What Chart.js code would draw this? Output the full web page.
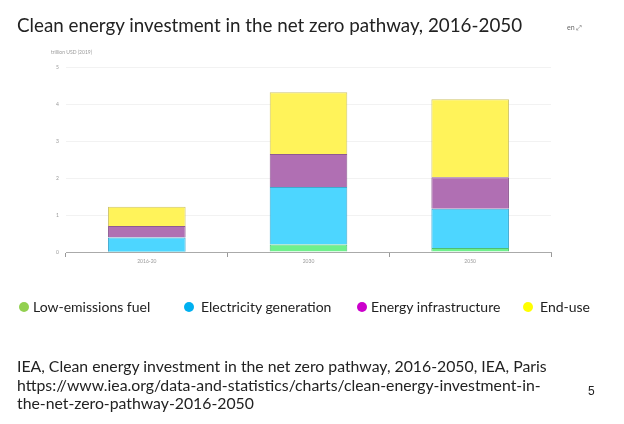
<!DOCTYPE html>
<html>
<head>
<meta charset="utf-8">
<script src="https://cdn.jsdelivr.net/npm/chart.js@4"></script>
<style>
  html, body { margin: 0; padding: 0; background: #fff; }
  body { width: 624px; height: 424px; position: relative; overflow: hidden; font-family: Lato, sans-serif; color: #222; }
  #wrap { position: absolute; left: 0; top: 0; width: 624px; height: 424px; }
  .abs { position: absolute; white-space: nowrap; }
  #title { left: 17px; top: 13px; font-size: 18.8px; }
  #unit { left: 51px; top: 49px; font-size: 5px; color: #999; }
  #en { left: 567px; top: 23px; font-size: 7px; color: #666; }
  #legend .item { position: absolute; top: 299px; font-size: 14px; line-height: 16px; }
  #legend .dot { position: absolute; width: 10px; height: 10px; border-radius: 50%; top: 3px; }
  #source { left: 17px; top: 357px; font-size: 15.8px; line-height: 18.5px; white-space: pre; }
  #page { left: 588px; top: 384px; font-size: 12px; font-family: "Liberation Sans", sans-serif; }
</style>
</head>
<body>
<div id="wrap"><canvas id="myChart" width="624" height="424"></canvas></div>
<div class="abs" id="title">Clean energy investment in the net zero pathway, 2016-2050</div>
<div class="abs" id="unit">trillion USD (2019)</div>
<div class="abs" id="en">en &#x2922;</div>
<div id="legend"></div>
<div class="abs" id="source">IEA, Clean energy investment in the net zero pathway, 2016-2050, IEA, Paris
https://www.iea.org/data-and-statistics/charts/clean-energy-investment-in-
the-net-zero-pathway-2016-2050</div>
<div class="abs" id="page">5</div>
<script>
// values, trillion USD (2019)
const categories = ['2016-20', '2030', '2050']
const lowEmissionsFuel = [0.01, 0.20, 0.11]
const electricityGeneration = [0.38, 1.56, 1.06]
const energyInfrastructure = [0.31, 0.89, 0.85]
const endUse = [0.52, 1.67, 2.11]
const seriesNames = ['Low-emissions fuel', 'Electricity generation', 'Energy infrastructure', 'End-use']
const yTicks = [0, 1, 2, 3, 4, 5]

const barColors = ['#6ef08c', '#4dd6ff', '#b06fb3', '#fff35a']
const barBorders = ['#4fbf72', '#3fa9cf', '#8e5a92', '#cfc56a']
const legendColors = ['#92d050', '#00b0f0', '#cc00cc', '#ffff00']
const legendX = [19, 184, 357, 523]

const seriesData = [lowEmissionsFuel, electricityGeneration, energyInfrastructure, endUse]

let legend = document.getElementById('legend')
seriesNames.forEach(function (name, i) {
  let item = document.createElement('div')
  item.className = 'item'
  item.style.left = legendX[i] + 'px'
  item.innerHTML = '<span class="dot" style="left:0;background:' + legendColors[i] + '"></span>' +
    '<span style="margin-left:' + (i === 0 || i === 2 ? 14 : 17) + 'px">' + name + '</span>'
  legend.appendChild(item)
})

let data = {
  labels: categories,
  datasets: seriesData.map(function (values, i) {
    return {
      label: seriesNames[i],
      data: values,
      backgroundColor: barColors[i],
      borderColor: barBorders[i],
      borderWidth: 1,
      categoryPercentage: 1,
      barPercentage: 0.48,
    }
  }),
}

let config = {
  type: 'bar',
  data: data,
  options: {
    responsive: false,
    animation: false,
    layout: {
      padding: { top: 67, bottom: 152, left: 0, right: 73 },
    },
    scales: {
      x: {
        stacked: true,
        grid: {
          display: true,
          drawOnChartArea: false,
          drawTicks: true,
          tickLength: 5,
          color: '#999',
        },
        border: { color: '#aaa', width: 1 },
        ticks: {
          color: '#999',
          font: { family: 'Lato', size: 5 },
          padding: 1,
        },
        afterFit: function (scale) {
          scale.height = 20
        },
      },
      y: {
        stacked: true,
        min: 0,
        max: 5,
        afterBuildTicks: function (scale) {
          scale.ticks = yTicks.map(function (v) { return { value: v } })
        },
        grid: {
          color: function (ctx) { return ctx.tick && ctx.tick.value === 0 ? 'rgba(0,0,0,0)' : '#f2f2f2' },
          drawTicks: false,
        },
        border: { display: false },
        ticks: {
          color: '#999',
          font: { family: 'Lato', size: 5 },
          padding: 7,
        },
        afterFit: function (scale) {
          scale.width = 66
        },
      },
    },
    plugins: {
      legend: { display: false },
      title: { display: false },
      tooltip: { enabled: false },
    },
  },
}

let chart = new Chart(document.getElementById('myChart'), config)
</script>
</body>
</html>
